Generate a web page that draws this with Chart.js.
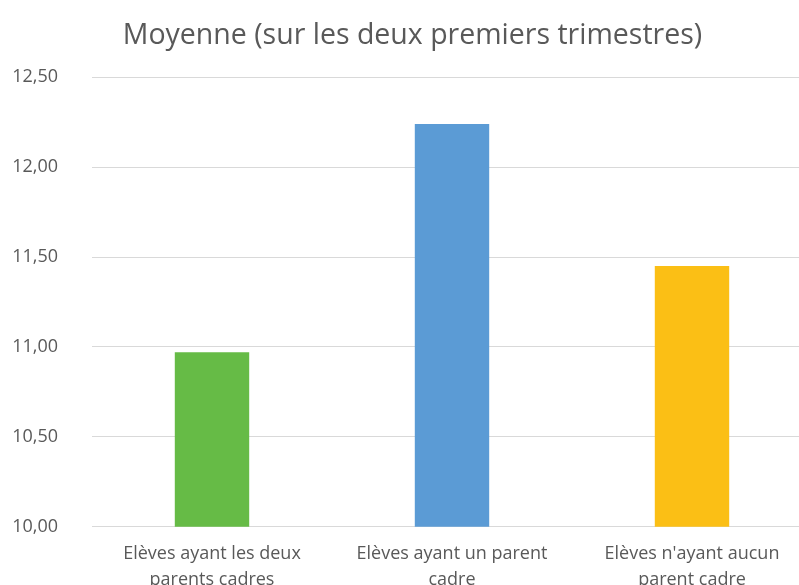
<!DOCTYPE html>
<html lang="fr">
<head>
<meta charset="utf-8">
<script src="https://cdn.jsdelivr.net/npm/chart.js@4"></script>
<style>
  html, body { margin: 0; padding: 0; background: #fff; overflow: hidden; }
  #wrap { width: 812px; height: 599px; position: relative; }
</style>
</head>
<body>
<div id="wrap"><canvas id="chart-moyenne"></canvas></div>
<script>
// ─── Données ────────────────────────────────────────────────────────────────
const TITLE = "Moyenne (sur les deux premiers trimestres)";
const categories = [
  ["Elèves ayant les deux", "parents cadres"],
  ["Elèves ayant un parent", "cadre"],
  ["Elèves n'ayant aucun", "parent cadre"]
];
const moyennes = [10.97, 12.24, 11.45];
const barColors = ["#66bb46", "#5b9bd5", "#fbbf15"];
const yMin = 10, yMax = 12.5, yStep = 0.5;

const FONT = "'Open Sans', 'Noto Sans', sans-serif";
const GREY = "#595959";

// ─── Graphique ──────────────────────────────────────────────────────────────
const canvas = document.getElementById("chart-moyenne");
new Chart(canvas, {
  type: "bar",
  data: {
    labels: categories,
    datasets: [{
      data: moyennes,
      backgroundColor: barColors,
      borderWidth: 0,
      barPercentage: 0.31,
      categoryPercentage: 1
    }]
  },
  options: {
    responsive: true,
    maintainAspectRatio: false,
    animation: false,
    layout: { padding: { left: 13, right: 0, top: 19, bottom: 0 } },
    plugins: {
      legend: { display: false },
      tooltip: { enabled: false },
      title: {
        display: true,
        text: TITLE,
        color: GREY,
        font: { family: FONT, size: 28.5, weight: "normal" },
        padding: { top: 0, bottom: 24 }
      }
    },
    scales: {
      x: {
        grid: { display: false },
        border: { display: false },
        ticks: {
          color: GREY,
          font: { family: FONT, size: 18, lineHeight: 1.45 },
          padding: 6,
          maxRotation: 0,
          autoSkip: false
        }
      },
      y: {
        min: yMin,
        max: yMax,
        grid: { color: "#d9d9d9", lineWidth: 1, drawTicks: false },
        border: { display: false },
        ticks: {
          stepSize: yStep,
          color: GREY,
          padding: 34,
          font: { family: FONT, size: 18 },
          callback: v => v.toFixed(2).replace(".", ",")
        },
        // Chart.js compte le padding deux fois : on fixe la largeur de l'axe
        afterFit: s => { s.width = 79; }
      }
    }
  }
});
</script>
</body>
</html>
